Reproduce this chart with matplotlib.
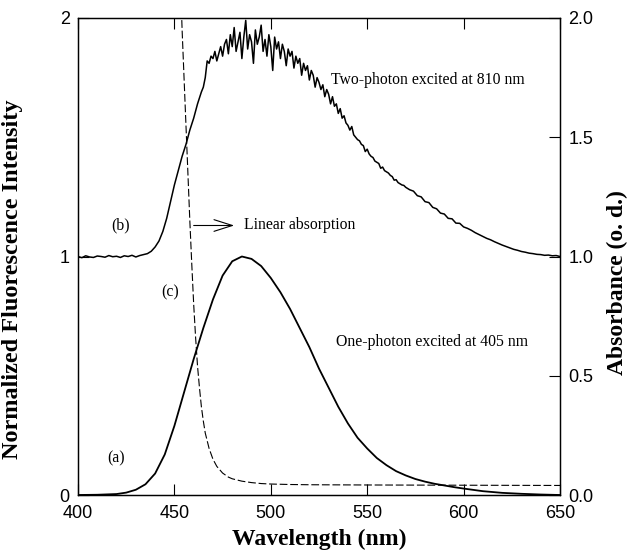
import numpy as np
import matplotlib
matplotlib.use("Agg")
import matplotlib.pyplot as plt

# ========================================
# Data
# ========================================
# (a) one-photon excited fluorescence, normalized
wl_a = [400, 410, 420, 425, 430, 435, 440, 445, 450, 455, 460, 465, 470, 475, 480, 485,
        490, 495, 500, 505, 510, 515, 520, 525, 530, 535, 540, 545, 550, 555, 560, 565,
        570, 575, 580, 585, 590, 595, 600, 610, 620, 630, 640, 650]
fl_a = [0.0, 0.001, 0.004, 0.01, 0.022, 0.045, 0.09, 0.17, 0.29, 0.43, 0.57, 0.70, 0.82, 0.92,
        0.98, 1.0, 0.99, 0.96, 0.91, 0.85, 0.78, 0.70, 0.62, 0.53, 0.45, 0.37, 0.30, 0.24,
        0.195, 0.155, 0.125, 0.10, 0.082, 0.067, 0.056, 0.047, 0.04, 0.033, 0.027, 0.016,
        0.009, 0.005, 0.002, 0.0]

# (b) two-photon excited fluorescence, offset by 1 (denser sampling where it is noisy)
wl_b = list(range(400, 465, 2)) + list(range(465, 571)) + list(range(572, 651, 2))
fl_b = [
    # 400 - 464, every 2 nm
    1.000, 0.995, 1.003, 0.998, 0.996, 1.002, 1.000, 0.997, 1.004, 0.999,
    1.001, 0.996, 1.003, 1.000, 1.005, 0.998, 1.004, 1.008, 1.012, 1.022,
    1.040, 1.065, 1.105, 1.160, 1.230, 1.300, 1.360, 1.420, 1.470, 1.530,
    1.580, 1.640, 1.690,
    # 465 - 570, every 1 nm
    1.71, 1.75, 1.82, 1.81, 1.84, 1.83, 1.86, 1.82, 1.85, 1.88,
    1.84, 1.89, 1.91, 1.85, 1.93, 1.88, 1.96, 1.86, 1.90, 1.94,
    1.83, 1.92, 1.99, 1.87, 1.93, 1.90, 1.81, 1.95, 1.89, 1.92,
    1.97, 1.86, 1.91, 1.84, 1.93, 1.88, 1.78, 1.92, 1.87, 1.90,
    1.83, 1.89, 1.86, 1.80, 1.87, 1.84, 1.86, 1.79, 1.84, 1.81,
    1.83, 1.76, 1.81, 1.78, 1.80, 1.74, 1.78, 1.76, 1.71, 1.75,
    1.73, 1.70, 1.72, 1.67, 1.70, 1.68, 1.64, 1.67, 1.63, 1.64,
    1.60, 1.62, 1.58, 1.59, 1.56, 1.55, 1.53, 1.545, 1.51, 1.50,
    1.49, 1.485, 1.47, 1.465, 1.44, 1.45, 1.43, 1.42, 1.415, 1.40,
    1.395, 1.39, 1.37, 1.375, 1.36, 1.355, 1.35, 1.34, 1.335, 1.32,
    1.322, 1.31, 1.305, 1.30, 1.298, 1.29,
    # 572 - 650, every 2 nm
    1.280, 1.274, 1.255, 1.250, 1.230, 1.226, 1.206, 1.200, 1.182, 1.178,
    1.160, 1.158, 1.140, 1.139, 1.124, 1.118, 1.110, 1.100, 1.092, 1.084,
    1.076, 1.070, 1.062, 1.055, 1.048, 1.042, 1.036, 1.030, 1.026, 1.021,
    1.018, 1.014, 1.012, 1.009, 1.008, 1.005, 1.006, 1.003, 1.004, 1.000,
]

# (c) linear absorption (right axis, o.d.)
wl_c = [452, 453, 454, 455, 456, 457, 458, 459, 460, 461, 462, 463, 464, 465, 466, 468,
        470, 472, 475, 478, 480, 485, 490, 495, 500, 510, 520, 550, 600, 650]
abs_c = [2.6, 2.2, 1.95, 1.75, 1.55, 1.35, 1.15, 0.97, 0.80, 0.66, 0.54, 0.45, 0.37, 0.31,
         0.26, 0.195, 0.15, 0.12, 0.092, 0.075, 0.068, 0.058, 0.052, 0.048, 0.046, 0.044,
         0.043, 0.042, 0.041, 0.040]

xticks = [400, 450, 500, 550, 600, 650]
yticks_left = [0, 1, 2]
yticks_right = [0.0, 0.5, 1.0, 1.5, 2.0]

# ========================================
# Plot
# ========================================
serif = ['Liberation Serif', 'DejaVu Serif']
sans = ['Liberation Sans', 'DejaVu Sans']
plt.rcParams['font.family'] = sans

fig = plt.figure(figsize=(6.34, 5.59), dpi=100)
ax = fig.add_axes([78 / 634, 1 - 495 / 559, 482 / 634, 477 / 559])
ax2 = ax.twinx()

ax.plot(wl_a, fl_a, color='black', lw=1.3)
ax.plot(wl_b, fl_b, color='black', lw=1.1)
ax2.plot(wl_c, abs_c, color='black', lw=0.8, linestyle=(0, (7, 2.5)))

ax.set_xlim(400, 650)
ax.set_ylim(0, 2)
ax2.set_ylim(0, 2)

ax.set_xticks(xticks)
ax.set_yticks(yticks_left)
ax.set_yticklabels([str(t) for t in yticks_left])
ax2.set_yticks(yticks_right)
ax2.set_yticklabels([f'{t:.1f}' for t in yticks_right])

ax.tick_params(axis='x', direction='in', top=True, length=8, width=0.8, labelsize=13, pad=7)
ax.tick_params(axis='y', direction='in', length=8, width=0.8, labelsize=13, pad=6)
ax2.tick_params(axis='y', direction='in', length=8, width=0.8, labelsize=13, pad=6)
for a in (ax, ax2):
    for s in a.spines.values():
        s.set_linewidth(0.9)

ax.set_xlabel('Wavelength (nm)', family=serif, fontweight='bold', fontsize=17)
ax.set_ylabel('Normalized Fluorescence Intensity', family=serif, fontweight='bold', fontsize=17.5)
ax2.set_ylabel('Absorbance (o. d.)', family=serif, fontweight='bold', fontsize=17)
ax.xaxis.set_label_coords(0.5, -0.071)
ax.yaxis.set_label_coords(-0.115, 0.453)
ax2.yaxis.set_label_coords(1.098, 0.445)

# annotations
tkw = dict(family=serif, fontsize=11.3, color='black')
ax.text(422, 1.13, '(b)', ha='center', va='center', **tkw)
ax.text(448, 0.85, '(c)', ha='center', va='center', **tkw)
ax.text(420, 0.155, '(a)', ha='center', va='center', **tkw)
ax.annotate('', xy=(481, 1.13), xytext=(460, 1.13),
            arrowprops=dict(arrowstyle='->,head_length=1.1,head_width=0.35',
                            lw=0.8, color='black', mutation_scale=12,
                            shrinkA=0, shrinkB=0))
ax.text(486, 1.13, 'Linear absorption', ha='left', va='center', **tkw)
ax.text(531, 1.74, 'Two-photon excited at 810 nm', ha='left', va='center', **tkw)
ax.text(534, 0.64, 'One-photon excited at 405 nm', ha='left', va='center', **tkw)

plt.savefig('out.png', dpi=100)
plt.close()
